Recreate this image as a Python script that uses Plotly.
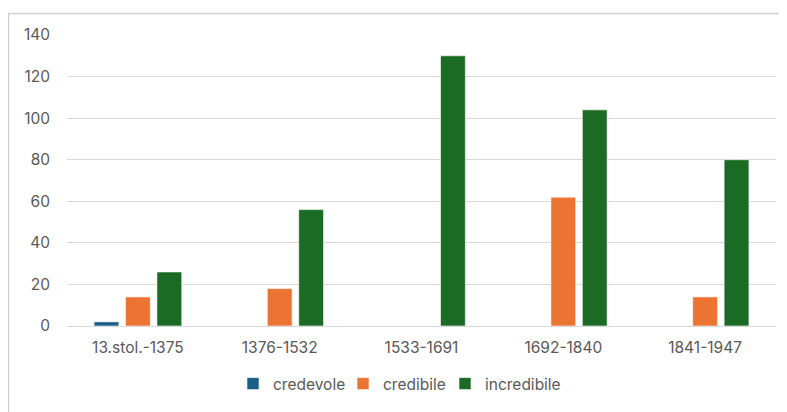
import plotly.graph_objects as go

categories = ["13.stol.-1375", "1376-1532", "1533-1691", "1692-1840", "1841-1947"]
credevole = [2, 0, 0, 0, 0]
credibile = [14, 18, 0, 62, 14]
incredibile = [26, 56, 130, 104, 80]
y_ticks = [0, 20, 40, 60, 80, 100, 120, 140]

# page body has an 8px margin, so the figure is drawn 8px right/down
OFF = 8
W, H = 787 - OFF, 412 - OFF
L, R, T, B = 67 - OFF, 11, 35 - OFF, 86
pw, ph = W - L - R, H - T - B

series = [("credevole", credevole, "#1B5E85", "legend", 257),
          ("credibile", credibile, "#EC7433", "legend2", 367),
          ("incredibile", incredibile, "#1B6B24", "legend3", 469)]

fig = go.Figure()
legends = {}
for name, vals, col, lg, sq in series:
    fig.add_trace(go.Bar(x=categories, y=vals, name=name, legend=lg,
                         marker=dict(color=col, line=dict(color="rgba(255,255,255,0.6)", width=1))))
    legends[lg] = dict(orientation="h", x=(sq - 24 - OFF - L) / pw, xanchor="left",
                       y=-(384 - 326) / ph, yanchor="middle", bgcolor="rgba(0,0,0,0)",
                       font=dict(size=15.5, color="#595959"), itemwidth=30)

fig.update_layout(
    width=W, height=H,
    margin=dict(l=L, r=R, t=T, b=B, autoexpand=False),
    paper_bgcolor="white", plot_bgcolor="white",
    barmode="group", bargap=0.335, bargroupgap=0.21,
    font=dict(family="Inter, Open Sans, sans-serif", size=15.5, color="#595959"),
    showlegend=True,
    xaxis=dict(showgrid=False, showline=False, ticks="", ticklabelstandoff=10),
    yaxis=dict(range=[0, 140], tickvals=y_ticks, showgrid=True, gridcolor="#D9D9D9", gridwidth=1,
               zeroline=True, zerolinecolor="#D9D9D9", zerolinewidth=1, showline=False, ticks="",
               ticklabelstandoff=16),
    shapes=[dict(type="rect", xref="paper", yref="paper",
                 x0=(8.5 - OFF - L) / pw, x1=(W + 20 - L) / pw,
                 y0=-(H + 20 - T - ph) / ph, y1=1 + (T - (13.5 - OFF)) / ph,
                 line=dict(color="#D0D0D0", width=1.5), fillcolor="rgba(0,0,0,0)", layer="below")],
    **legends,
)

fig.write_html("out.html")
